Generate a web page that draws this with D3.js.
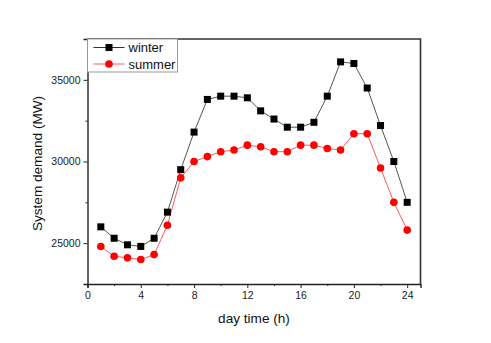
<!DOCTYPE html>
<html>
<head>
<meta charset="utf-8">
<script src="https://cdn.jsdelivr.net/npm/d3@7/dist/d3.min.js"></script>
<style>
  html, body { margin: 0; padding: 0; background: #fff; }
  svg { display: block; font-family: "Liberation Sans", Arial, sans-serif; }
</style>
</head>
<body>
<svg id="chart" width="491" height="343"></svg>
<script>
// Hourly system demand (MW) for a typical winter and summer day
const hours = [1,2,3,4,5,6,7,8,9,10,11,12,13,14,15,16,17,18,19,20,21,22,23,24];
const winter = [26000,25300,24900,24800,25300,26900,29500,31800,33800,34000,34000,33900,
                33100,32600,32100,32100,32400,34000,36100,36000,34500,32200,30000,27500];
const summer = [24800,24200,24100,24000,24300,26100,29000,30000,30300,30600,30700,31000,
                30900,30600,30600,31000,31000,30800,30700,31700,31700,29600,27500,25800];
const xTicks = [0,4,8,12,16,20,24];
const xMinorTicks = [2,6,10,14,18,22];
const yTicks = [25000,30000,35000];
const yMinorTicks = [27500,32500,37500];
const seriesNames = ["winter","summer"];

const svg = d3.select("#chart");
const margin = {left: 87.5, right: 70.5, top: 39, bottom: 59};
const W = 491, H = 343;

const x = d3.scaleLinear().domain([0, 25]).range([margin.left, W - margin.right]);
const y = d3.scaleLinear().domain([22500, 37500]).range([H - margin.bottom, margin.top]);

svg.append("rect").attr("width", W).attr("height", H).attr("fill", "#fff");

// axes
svg.append("g").attr("transform", `translate(0,${H - margin.bottom})`)
  .call(d3.axisBottom(x).tickValues(xTicks).tickSize(4).tickPadding(4).tickFormat(d3.format("d")));
svg.append("g").attr("transform", `translate(0,${H - margin.bottom})`)
  .call(d3.axisBottom(x).tickValues(xMinorTicks).tickSize(2).tickFormat(""))
  .call(g => g.select(".domain").remove());

svg.append("g").attr("transform", `translate(${margin.left},0)`)
  .call(d3.axisLeft(y).tickValues(yTicks).tickSize(4).tickPadding(3).tickFormat(d3.format("d")));
svg.append("g").attr("transform", `translate(${margin.left},0)`)
  .call(d3.axisLeft(y).tickValues(yMinorTicks).tickSize(2).tickFormat(""))
  .call(g => g.select(".domain").remove());

svg.selectAll(".tick text").attr("font-size", 10.5).attr("fill", "#222")
  .attr("font-family", "Liberation Sans, Arial, sans-serif");
svg.selectAll(".tick line").attr("stroke", "#222");
svg.selectAll(".domain").attr("stroke", "#222").attr("stroke-width", 1.4);

// frame top and right
svg.append("path")
  .attr("d", `M${x(0)},${y(37500)}H${x(25)}V${y(22500)}`)
  .attr("fill", "none").attr("stroke", "#333").attr("stroke-width", 1.6);

// axis titles
svg.append("text").attr("x", (x(0) + x(25)) / 2).attr("y", 323)
  .attr("text-anchor", "middle").attr("font-size", 13.6).attr("fill", "#111").text("day time (h)");
svg.append("text").attr("transform", `translate(42,${(y(22500) + y(37500)) / 2 + 2}) rotate(-90)`)
  .attr("text-anchor", "middle").attr("font-size", 13.6).attr("fill", "#111").text("System demand (MW)");

// series
const line = d3.line().x((d, i) => x(hours[i])).y(d => y(d));

svg.append("path").datum(winter).attr("d", line)
  .attr("fill", "none").attr("stroke", "#555").attr("stroke-width", 1);
svg.append("path").datum(summer).attr("d", line)
  .attr("fill", "none").attr("stroke", "#ff5a5a").attr("stroke-width", 1);

const sq = 7;
svg.append("g").selectAll("rect").data(winter).join("rect")
  .attr("x", (d, i) => x(hours[i]) - sq / 2).attr("y", d => y(d) - sq / 2)
  .attr("width", sq).attr("height", sq).attr("fill", "#000");
svg.append("g").selectAll("circle").data(summer).join("circle")
  .attr("cx", (d, i) => x(hours[i])).attr("cy", d => y(d)).attr("r", 3.8).attr("fill", "#ff0000");

// legend
const lg = svg.append("g").attr("transform", `translate(${x(0)},${y(37500)})`);
lg.append("rect").attr("x", 0).attr("y", 0).attr("width", 90).attr("height", 33)
  .attr("fill", "#fff").attr("stroke", "#999").attr("stroke-width", 1);
seriesNames.forEach((name, i) => {
  const cy = 8.5 + i * 16.5;
  const color = i === 0 ? "#000" : "#ff0000";
  lg.append("line").attr("x1", 6).attr("x2", 37).attr("y1", cy).attr("y2", cy)
    .attr("stroke", i === 0 ? "#333" : "#ff5a5a").attr("stroke-width", 1);
  if (i === 0) {
    lg.append("rect").attr("x", 21.5 - 3.5).attr("y", cy - 3.5).attr("width", 7).attr("height", 7).attr("fill", color);
  } else {
    lg.append("circle").attr("cx", 21.5).attr("cy", cy).attr("r", 3.8).attr("fill", color);
  }
  lg.append("text").attr("x", 41).attr("y", cy + 4.5).attr("font-size", 13).attr("fill", "#111").text(name);
});
</script>
</body>
</html>
